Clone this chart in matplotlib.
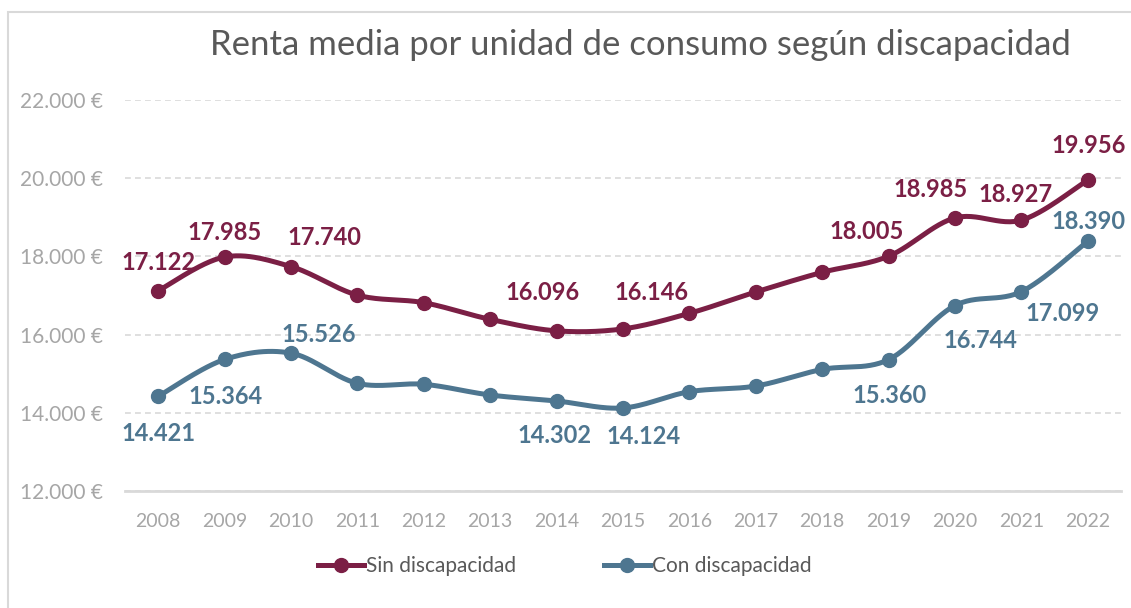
import numpy as np
import matplotlib
matplotlib.use("Agg")
import matplotlib.pyplot as plt
from matplotlib.lines import Line2D
from matplotlib.patches import Rectangle
from matplotlib.ticker import FuncFormatter

plt.rcParams['font.family'] = ['Lato', 'DejaVu Sans']

years = ['2008', '2009', '2010', '2011', '2012', '2013', '2014', '2015',
         '2016', '2017', '2018', '2019', '2020', '2021', '2022']
sin_disc = [17122, 17985, 17740, 17010, 16816, 16390, 16096, 16146,
            16545, 17090, 17593, 18005, 18985, 18927, 19956]
con_disc = [14421, 15364, 15526, 14754, 14729, 14455, 14302, 14124,
            14540, 14685, 15110, 15360, 16744, 17099, 18390]
# which points carry a data label
sin_labeled = [0, 1, 2, 6, 7, 11, 12, 13, 14]
con_labeled = [0, 1, 2, 6, 7, 11, 12, 13, 14]
# label offsets in pixels (dx, dy)
sin_offsets = {0: (0, 28), 1: (0, 24), 2: (33, 29), 6: (-14, 38), 7: (28, 36),
               11: (-22, 25), 12: (-24, 28), 13: (-6, 26), 14: (1, 34)}
con_offsets = {0: (0, -37), 1: (1, -37), 2: (28, 19), 6: (-2, -35), 7: (21, -29),
               11: (1, -36), 12: (25, -35), 13: (41, -22), 14: (1, 20)}

C_SIN = '#7B1F45'
C_CON = '#4E7690'
GRAY_TXT = '#A6A6A6'
TITLE_C = '#595959'

W, H = 1131, 608
fig = plt.figure(figsize=(W / 100, H / 100), dpi=100)
ax = fig.add_axes([125 / W, 1 - 491 / H, (1121 - 125) / W, (491 - 100) / H])


def smooth(xs, ys, n=30):
    P = np.column_stack([xs, ys]).astype(float)
    out = []
    m = len(P)
    for i in range(m - 1):
        p0 = P[i - 1] if i > 0 else P[i]
        p1 = P[i]
        p2 = P[i + 1]
        p3 = P[i + 2] if i + 2 < m else P[i + 1]
        c1 = p1 + (p2 - p0) / 6.0
        c2 = p2 - (p3 - p1) / 6.0
        t = np.linspace(0, 1, n)[:, None]
        seg = ((1 - t) ** 3) * p1 + 3 * ((1 - t) ** 2) * t * c1 + 3 * (1 - t) * t ** 2 * c2 + t ** 3 * p2
        out.append(seg if i == 0 else seg[1:])
    out = np.vstack(out)
    return out[:, 0], out[:, 1]


x = np.arange(len(years))
for vals, col in [(sin_disc, C_SIN), (con_disc, C_CON)]:
    sx, sy = smooth(x, vals)
    ax.plot(sx, sy, color=col, lw=3.6, solid_capstyle='round', zorder=3)
    ax.plot(x, vals, 'o', color=col, ms=10, zorder=4)

ax.set_xlim(-0.5, len(years) - 0.5)
ax.set_ylim(12000, 22000)
ax.set_yticks(np.arange(12000, 22001, 2000))
ax.yaxis.set_major_formatter(FuncFormatter(lambda v, p: f"{int(v):,} €".replace(',', '.')))
ax.set_xticks(x)
ax.set_xticklabels(years)
ax.tick_params(axis='both', length=0, colors=GRAY_TXT)
ax.tick_params(axis='y', pad=16, labelsize=15)
ax.tick_params(axis='x', pad=16, labelsize=14)
for s in ['top', 'right', 'left']:
    ax.spines[s].set_visible(False)
ax.spines['bottom'].set_color('#D9D9D9')
ax.spines['bottom'].set_linewidth(2)
ax.grid(axis='y', color='#D9D9D9', lw=1.2, ls=(0, (3.5, 2.5)))
ax.set_axisbelow(True)

pt = 72 / 100
for idx in sin_labeled:
    dx, dy = sin_offsets[idx]
    ax.annotate(f"{sin_disc[idx]:,}".replace(',', '.'), (x[idx], sin_disc[idx]),
                xytext=(dx * pt, dy * pt), textcoords='offset points',
                ha='center', va='center', fontsize=17, fontweight='bold', color=C_SIN)
for idx in con_labeled:
    dx, dy = con_offsets[idx]
    ax.annotate(f"{con_disc[idx]:,}".replace(',', '.'), (x[idx], con_disc[idx]),
                xytext=(dx * pt, dy * pt), textcoords='offset points',
                ha='center', va='center', fontsize=17, fontweight='bold', color=C_CON)

fig.text(640 / W, 1 - 45 / H, 'Renta media por unidad de consumo según discapacidad',
         ha='center', va='center', fontsize=25, color=TITLE_C)

handles = [Line2D([], [], color=C_SIN, lw=3.6, marker='o', ms=10),
           Line2D([], [], color=C_CON, lw=3.6, marker='o', ms=10)]
fig.legend(handles, ['Sin discapacidad', 'Con discapacidad'], loc='center',
           bbox_to_anchor=(565 / W, 1 - 566 / H), ncol=2, frameon=False,
           fontsize=15, labelcolor=TITLE_C, handlelength=2.2, handletextpad=0.1,
           columnspacing=4.2)

fig.patches.append(Rectangle((8 / W, -0.05), 1.2, 1 - 12 / H + 0.05, transform=fig.transFigure,
                             fill=False, edgecolor='#D9D9D9', lw=1.5))

fig.savefig('out.png', dpi=100)
